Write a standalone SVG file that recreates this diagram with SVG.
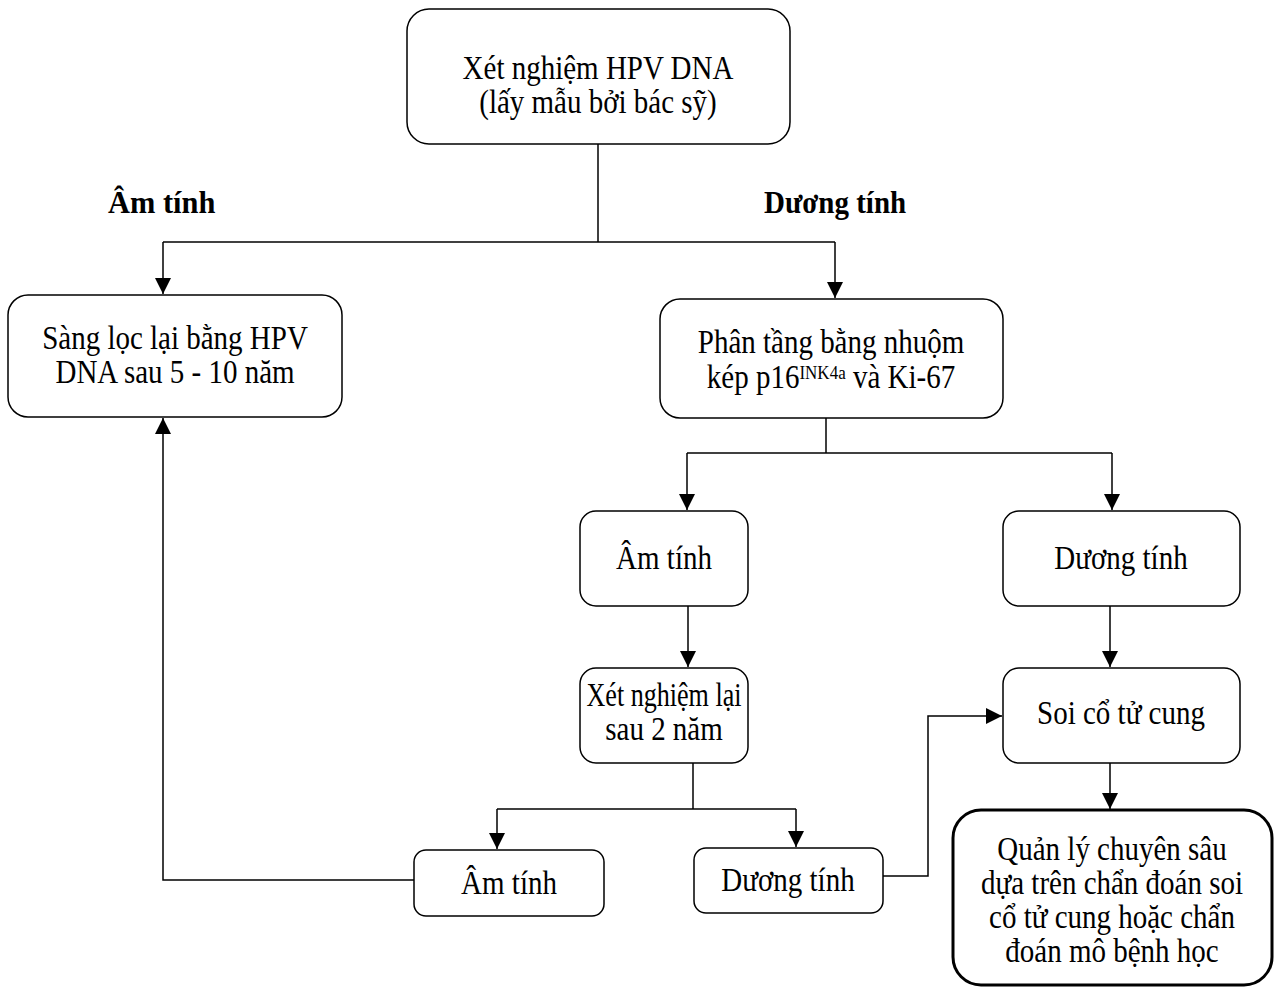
<svg xmlns="http://www.w3.org/2000/svg" width="1279" height="988" viewBox="0 0 1279 988">
<style>
.box{fill:#fff;stroke:#000;stroke-width:1.5}
.thick{stroke-width:3}
.t{font-family:"Liberation Serif","Times New Roman",serif;font-size:29px;fill:#000;text-anchor:middle}
.b{font-family:"Liberation Serif","Times New Roman",serif;font-size:29px;font-weight:bold;fill:#000}
.c{fill:none;stroke:#000;stroke-width:1.5}
</style>
<defs>
<marker id="ah" markerUnits="userSpaceOnUse" markerWidth="16" markerHeight="16" viewBox="0 0 16 16" refX="16" refY="8" orient="auto">
<path d="M0,0 L16,8 L0,16 Z" fill="#000"/>
</marker>
</defs>
<rect width="1279" height="988" fill="#fff"/>
<g id="connectors">
<path class="c" d="M598,144 V242"/>
<path class="c" d="M163,242 H835"/>
<path class="c" d="M163,242 V294" marker-end="url(#ah)"/>
<path class="c" d="M835,242 V298" marker-end="url(#ah)"/>
<path class="c" d="M826,418 V453"/>
<path class="c" d="M687,453 H1112"/>
<path class="c" d="M687,453 V510" marker-end="url(#ah)"/>
<path class="c" d="M1112,453 V510" marker-end="url(#ah)"/>
<path class="c" d="M688,606 V667" marker-end="url(#ah)"/>
<path class="c" d="M1110,606 V667" marker-end="url(#ah)"/>
<path class="c" d="M693,763 V809"/>
<path class="c" d="M497,809 H796"/>
<path class="c" d="M497,809 V849" marker-end="url(#ah)"/>
<path class="c" d="M796,809 V847" marker-end="url(#ah)"/>
<path class="c" d="M883,876 H928 V716 H1002" marker-end="url(#ah)"/>
<path class="c" d="M414,880 H163 V418" marker-end="url(#ah)"/>
<path class="c" d="M1110,763 V809" marker-end="url(#ah)"/>
</g>
<g id="lbl-am"><text class="b" transform="translate(108,213) scale(1.05,1.12)">Âm tính</text></g>
<g id="lbl-duong"><text class="b" transform="translate(764,213) scale(1,1.12)">Dương tính</text></g>
<g id="n-top">
<rect class="box" x="407" y="9" width="383" height="135" rx="22"/>
<text class="t" transform="translate(598,79) scale(1,1.14)">Xét nghiệm HPV DNA</text>
<text class="t" transform="translate(598,113) scale(1,1.14)">(lấy mẫu bởi bác sỹ)</text>
</g>
<g id="n-sangloc">
<rect class="box" x="8" y="295" width="334" height="122" rx="20"/>
<text class="t" transform="translate(175,349) scale(1,1.14)">Sàng lọc lại bằng HPV</text>
<text class="t" transform="translate(175,383) scale(1,1.14)">DNA sau 5 - 10 năm</text>
</g>
<g id="n-phantang">
<rect class="box" x="660" y="299" width="343" height="119" rx="20"/>
<text class="t" transform="translate(831,353) scale(1,1.14)">Phân tầng bằng nhuộm</text>
<text class="t" transform="translate(831,388) scale(1,1.14)">kép p16<tspan font-size="17" dy="-8">INK4a</tspan><tspan dy="8"> và Ki-67</tspan></text>
</g>
<g id="n-am1">
<rect class="box" x="580" y="511" width="168" height="95" rx="16"/>
<text class="t" transform="translate(664,569) scale(1,1.14)">Âm tính</text>
</g>
<g id="n-duong1">
<rect class="box" x="1003" y="511" width="237" height="95" rx="16"/>
<text class="t" transform="translate(1121,569) scale(1,1.14)">Dương tính</text>
</g>
<g id="n-xetnghiemlai">
<rect class="box" x="580" y="668" width="168" height="95" rx="16"/>
<text class="t" transform="translate(664,706) scale(0.9,1.14)">Xét nghiệm lại</text>
<text class="t" transform="translate(664,740) scale(1,1.14)">sau 2 năm</text>
</g>
<g id="n-soi">
<rect class="box" x="1003" y="668" width="237" height="95" rx="16"/>
<text class="t" transform="translate(1121,724) scale(1,1.14)">Soi cổ tử cung</text>
</g>
<g id="n-am2">
<rect class="box" x="414" y="850" width="190" height="66" rx="12"/>
<text class="t" transform="translate(509,894) scale(1,1.14)">Âm tính</text>
</g>
<g id="n-duong2">
<rect class="box" x="694" y="848" width="189" height="65" rx="12"/>
<text class="t" transform="translate(788,891) scale(1,1.14)">Dương tính</text>
</g>
<g id="n-quanly">
<rect class="box thick" x="953" y="810" width="319" height="175" rx="28"/>
<text class="t" transform="translate(1112,860) scale(1,1.14)">Quản lý chuyên sâu</text>
<text class="t" transform="translate(1112,894) scale(1,1.14)">dựa trên chẩn đoán soi</text>
<text class="t" transform="translate(1112,928) scale(1,1.14)">cổ tử cung hoặc chẩn</text>
<text class="t" transform="translate(1112,962) scale(1,1.14)">đoán mô bệnh học</text>
</g>
</svg>
